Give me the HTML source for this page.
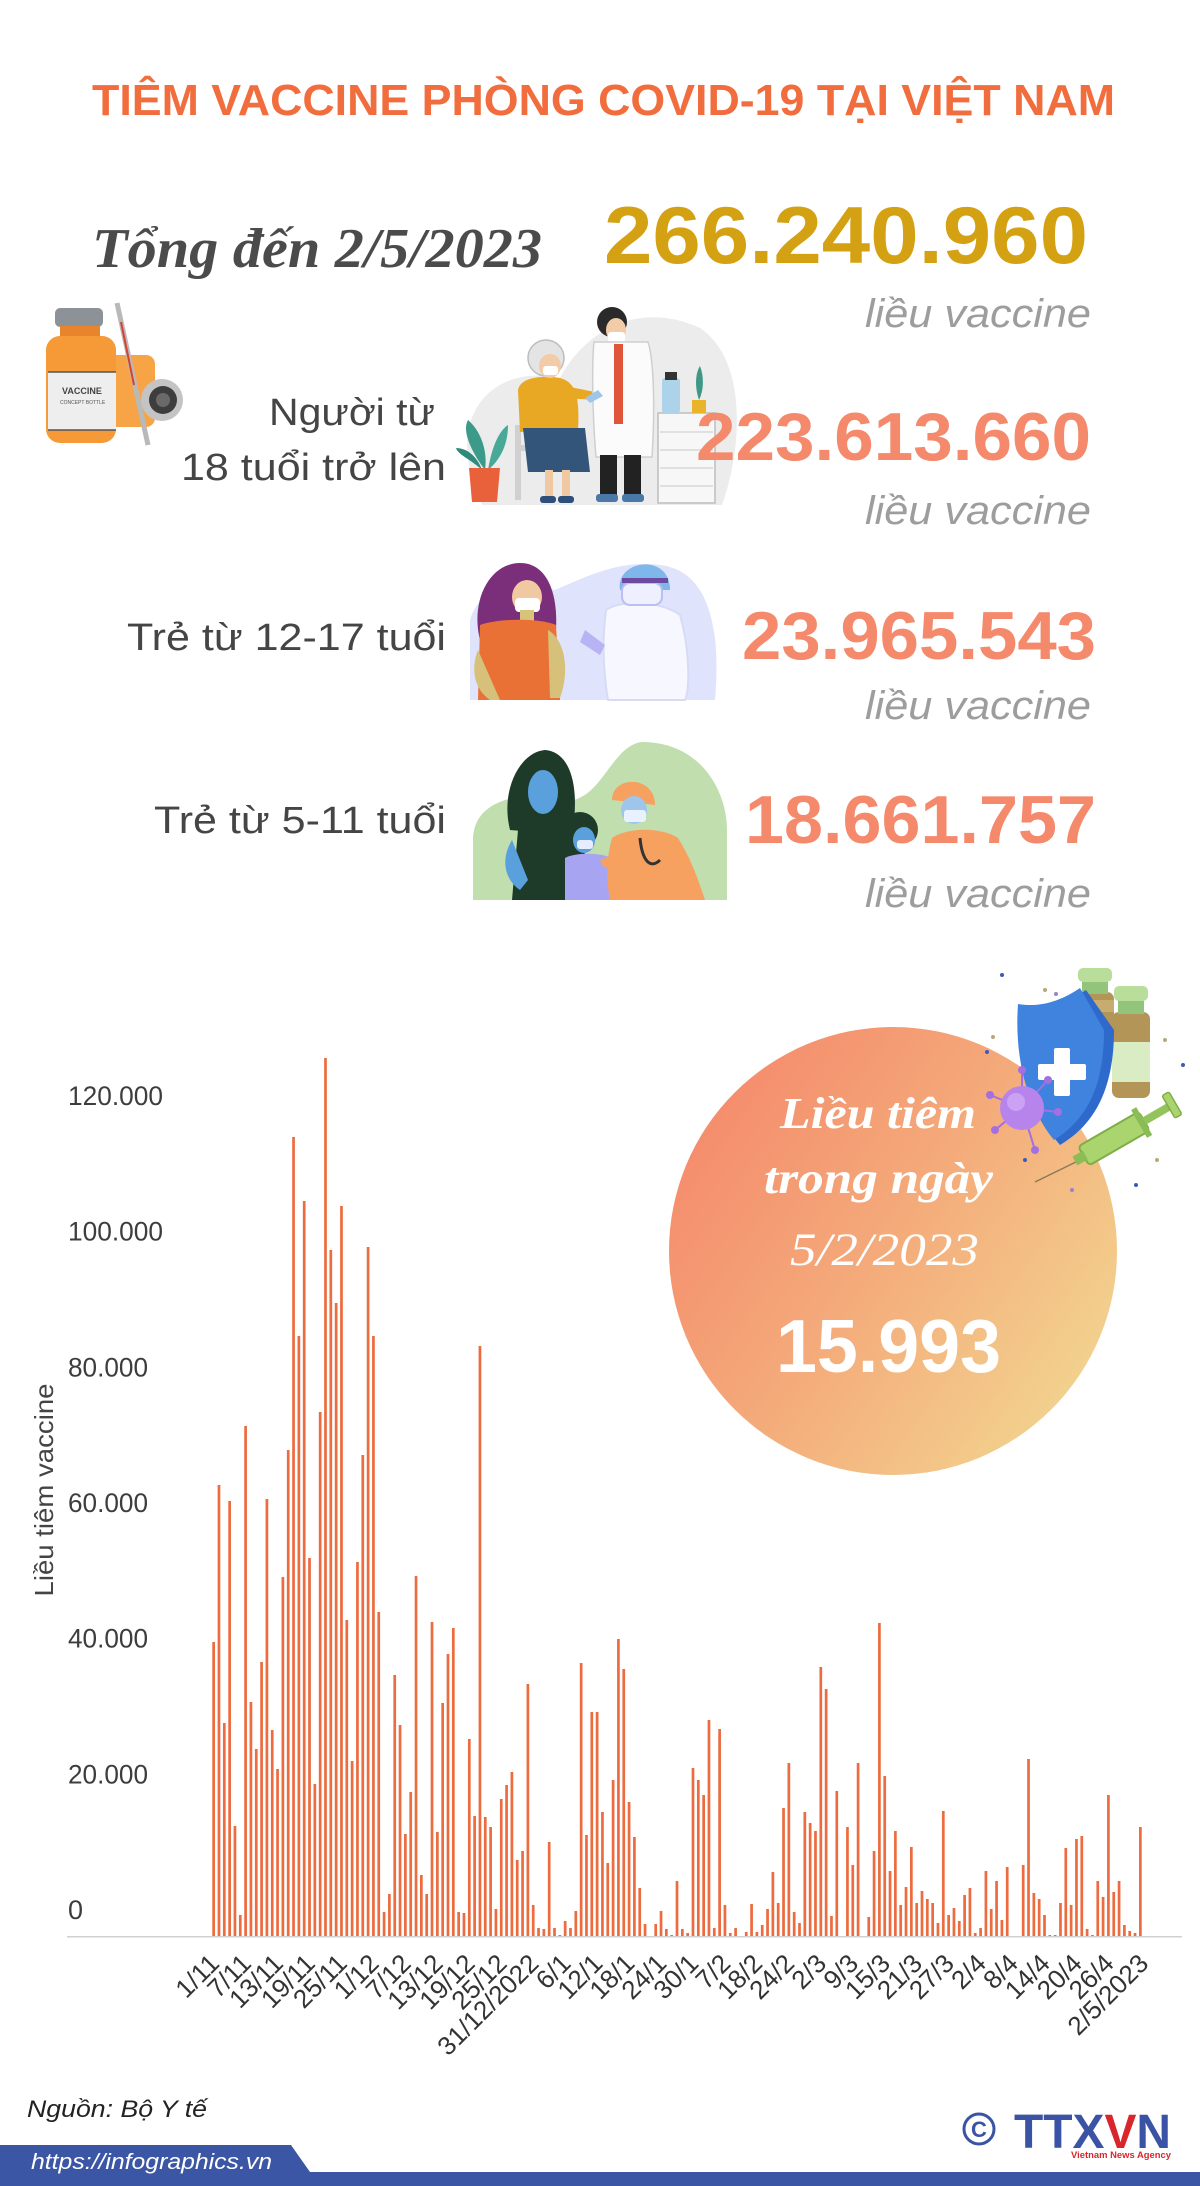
<!DOCTYPE html>
<html>
<head>
<meta charset="utf-8">
<style>
html,body{margin:0;padding:0;background:#fff;}
body{width:1200px;height:2186px;overflow:hidden;}
svg{display:block;}
text{font-family:"Liberation Sans", "Noto Sans CJK SC", sans-serif;}
.serif{font-family:"Liberation Serif", "Noto Serif CJK SC", serif;}
</style>
</head>
<body>
<svg width="1200" height="2186" viewBox="0 0 1200 2186" xmlns="http://www.w3.org/2000/svg">
<defs>
<linearGradient id="cg" x1="0" y1="0.15" x2="1" y2="0.85">
<stop offset="0" stop-color="#f5876a"/>
<stop offset="0.5" stop-color="#f4ac7b"/>
<stop offset="1" stop-color="#f2d891"/>
</linearGradient>
</defs>
<rect width="1200" height="2186" fill="#fff"/>

<!-- Title -->
<text x="92" y="115" font-weight="bold" font-size="44" fill="#f26d3d" textLength="1023" lengthAdjust="spacingAndGlyphs">TIÊM VACCINE PHÒNG COVID-19 TẠI VIỆT NAM</text>

<!-- Total -->
<text class="serif" x="92" y="267" font-style="italic" font-weight="bold" font-size="56" fill="#4b4b4b" textLength="450" lengthAdjust="spacingAndGlyphs">Tổng đến 2/5/2023</text>
<text x="604" y="263" font-weight="bold" font-size="81" fill="#d4a113" textLength="484" lengthAdjust="spacingAndGlyphs">266.240.960</text>
<text x="865" y="327" font-style="italic" font-size="40" fill="#9d9d9d" textLength="226" lengthAdjust="spacingAndGlyphs">liều vaccine</text>

<!-- Vaccine bottle illustration -->
<g>
<rect x="100" y="355" width="55" height="72" rx="9" fill="#f7a447"/>
<line x1="117" y1="303" x2="148" y2="445" stroke="#b9b9b9" stroke-width="5"/>
<line x1="121" y1="322" x2="134" y2="385" stroke="#d8412f" stroke-width="2"/>
<rect x="55" y="308" width="48" height="19" rx="5" fill="#8d9299"/>
<rect x="60" y="326" width="40" height="14" fill="#e8842c"/>
<rect x="46" y="336" width="70" height="107" rx="14" fill="#f59a36"/>
<rect x="48" y="372" width="68" height="58" fill="#eeeeee"/>
<line x1="48" y1="372" x2="116" y2="372" stroke="#555" stroke-width="1.5"/>
<line x1="48" y1="430" x2="116" y2="430" stroke="#555" stroke-width="1.5"/>
<text x="62" y="394" font-size="9" fill="#444" font-weight="bold">VACCINE</text>
<text x="60" y="404" font-size="5" fill="#555">CONCEPT BOTTLE</text>
<circle cx="162" cy="400" r="21" fill="#c4c4c4"/>
<circle cx="163" cy="400" r="14" fill="#3d3d3d"/>
<circle cx="163" cy="400" r="7" fill="#6a6a6a"/>
</g>

<!-- Elderly illustration -->
<g>
<path d="M470,470 C455,405 500,365 560,378 C585,330 640,300 700,328 C748,360 742,450 722,505 L482,505 Z" fill="#ececec"/>
<!-- plant left -->
<path d="M485,470 C470,450 462,430 468,420 C480,430 488,450 485,470 Z" fill="#3c9a8a"/>
<path d="M488,470 C492,445 500,430 508,425 C508,445 500,460 488,470 Z" fill="#48a998"/>
<path d="M482,470 C472,460 458,455 456,448 C468,448 478,458 482,470 Z" fill="#2f8a7c"/>
<path d="M469,468 L500,468 L497,502 L472,502 Z" fill="#e8613a"/>
<!-- chair -->
<rect x="515" y="425" width="6" height="75" fill="#d0d0d0"/>
<rect x="515" y="445" width="60" height="6" fill="#d0d0d0"/>
<!-- elderly woman -->
<path d="M518,390 C520,378 540,375 560,378 C575,382 580,395 578,430 L520,432 Z" fill="#e9a823"/>
<path d="M523,428 L585,428 L590,472 L528,472 Z" fill="#34557a"/>
<rect x="545" y="470" width="8" height="28" fill="#f0c9a2"/>
<rect x="562" y="470" width="8" height="28" fill="#f0c9a2"/>
<rect x="540" y="496" width="16" height="7" rx="3" fill="#2d4f7a"/>
<rect x="558" y="496" width="16" height="7" rx="3" fill="#2d4f7a"/>
<circle cx="546" cy="358" r="18" fill="#e4e4e4" stroke="#bdbdbd" stroke-width="1.5"/>
<ellipse cx="550" cy="366" rx="11" ry="12" fill="#f2cba8"/>
<rect x="543" y="366" width="15" height="9" rx="3" fill="#fff"/>
<path d="M560,385 L595,392 L597,400 L562,398 Z" fill="#e9a823"/>
<!-- doctor -->
<circle cx="612" cy="322" r="15" fill="#2a2a2a"/>
<ellipse cx="616" cy="330" rx="10" ry="12" fill="#f2cba8"/>
<rect x="608" y="332" width="17" height="10" rx="3" fill="#fff"/>
<path d="M594,342 L648,342 C654,360 655,410 652,457 L596,457 C592,410 592,360 594,342 Z" fill="#fbfbfb" stroke="#cfcfcf" stroke-width="1.5"/>
<rect x="614" y="344" width="9" height="80" fill="#e0553a"/>
<rect x="600" y="455" width="17" height="42" fill="#222"/>
<rect x="624" y="455" width="17" height="42" fill="#222"/>
<rect x="596" y="494" width="22" height="8" rx="3" fill="#4a79a8"/>
<rect x="622" y="494" width="22" height="8" rx="3" fill="#4a79a8"/>
<path d="M598,390 L585,398 L590,403 L603,396 Z" fill="#9fc6e8"/>
<!-- cabinet -->
<rect x="658" y="413" width="57" height="90" fill="#f7f7f7" stroke="#bdbdbd" stroke-width="1.5"/>
<line x1="660" y1="432" x2="713" y2="432" stroke="#c9c9c9"/>
<line x1="660" y1="450" x2="713" y2="450" stroke="#c9c9c9"/>
<line x1="660" y1="468" x2="713" y2="468" stroke="#c9c9c9"/>
<line x1="660" y1="486" x2="713" y2="486" stroke="#c9c9c9"/>
<rect x="662" y="378" width="18" height="35" rx="3" fill="#acd3ea"/>
<rect x="665" y="372" width="12" height="8" fill="#333"/>
<rect x="692" y="400" width="14" height="13" fill="#e9b429"/>
<path d="M699,400 C694,385 696,372 700,366 C704,376 704,390 699,400 Z" fill="#3f9786"/>
</g>
<text x="269" y="425" font-size="38" fill="#454545" textLength="166" lengthAdjust="spacingAndGlyphs">Người từ</text>
<text x="181" y="480" font-size="38" fill="#454545" textLength="265" lengthAdjust="spacingAndGlyphs">18 tuổi trở lên</text>
<text x="696" y="460" font-weight="bold" font-size="68" fill="#f4896b" textLength="395" lengthAdjust="spacingAndGlyphs">223.613.660</text>
<text x="865" y="524" font-style="italic" font-size="40" fill="#9d9d9d" textLength="226" lengthAdjust="spacingAndGlyphs">liều vaccine</text>

<!-- 12-17 illustration -->
<g>
<path d="M470,620 C480,585 520,580 555,590 C590,575 620,560 660,565 C705,570 722,620 715,700 L470,700 Z" fill="#dfe3fb"/>
<path d="M480,640 C470,600 490,563 520,563 C550,563 560,600 555,640 Z" fill="#7b2f7a"/>
<ellipse cx="527" cy="597" rx="15" ry="17" fill="#f0c9a2"/>
<rect x="515" y="598" width="25" height="14" rx="4" fill="#fff"/>
<rect x="520" y="610" width="14" height="12" fill="#d8c37a"/>
<path d="M480,625 C500,618 540,618 556,625 L560,700 L478,700 Z" fill="#ea7135"/>
<path d="M548,630 C565,640 570,670 560,698 L550,698 Z" fill="#d6c07a"/>
<path d="M478,650 C470,670 475,690 490,700 L500,700 Z" fill="#d6c07a"/>
<path d="M606,610 C620,600 660,600 680,615 C690,650 690,690 685,700 L608,700 C603,670 602,640 606,610 Z" fill="#f7f8ff" stroke="#d7dbf5" stroke-width="2"/>
<path d="M620,590 C615,560 670,552 670,590 Z" fill="#7fb7ea"/>
<rect x="622" y="583" width="40" height="22" rx="8" fill="#eef0ff" stroke="#b9bff0" stroke-width="2"/>
<rect x="622" y="578" width="46" height="5" fill="#6b4aa0"/>
<path d="M585,630 L605,645 L600,655 L580,642 Z" fill="#b7b3f5"/>
</g>
<text x="127" y="650" font-size="38" fill="#454545" textLength="319" lengthAdjust="spacingAndGlyphs">Trẻ từ 12-17 tuổi</text>
<text x="742" y="659" font-weight="bold" font-size="68" fill="#f4896b" textLength="354" lengthAdjust="spacingAndGlyphs">23.965.543</text>
<text x="865" y="719" font-style="italic" font-size="40" fill="#9d9d9d" textLength="226" lengthAdjust="spacingAndGlyphs">liều vaccine</text>

<!-- 5-11 illustration -->
<g>
<path d="M642,742 C700,742 727,790 727,830 L727,900 L473,900 L473,840 C473,800 520,790 560,800 C600,808 610,745 642,742 Z" fill="#c1deaf"/>
<path d="M510,830 C500,790 520,752 545,750 C572,752 580,790 572,835 Z" fill="#1e3b2a"/>
<ellipse cx="543" cy="792" rx="15" ry="22" fill="#5aa0dc"/>
<path d="M518,830 C530,818 565,818 582,830 L590,900 L512,900 Z" fill="#1e3b2a"/>
<path d="M512,840 C500,860 505,880 520,890 L528,880 Z" fill="#5aa0dc"/>
<circle cx="580" cy="830" r="18" fill="#1e3b2a"/>
<ellipse cx="584" cy="840" rx="11" ry="13" fill="#5aa0dc"/>
<rect x="577" y="840" width="16" height="9" rx="3" fill="#e8ecff"/>
<path d="M565,858 C575,852 605,852 615,860 L615,900 L565,900 Z" fill="#a7a4f1"/>
<path d="M612,800 C612,775 655,775 655,805 Z" fill="#f7a160"/>
<ellipse cx="634" cy="810" rx="13" ry="14" fill="#9fc5ec"/>
<rect x="624" y="810" width="22" height="12" rx="3" fill="#e8f2ff"/>
<path d="M612,838 C625,828 660,826 678,838 C692,860 700,885 705,900 L610,900 C606,880 606,860 612,838 Z" fill="#f7a160"/>
<path d="M640,838 C642,860 650,870 660,860" stroke="#333" stroke-width="3" fill="none"/>
<path d="M600,860 L620,852 L622,860 L604,868 Z" fill="#f7a160"/>
</g>
<text x="154" y="833" font-size="38" fill="#454545" textLength="292" lengthAdjust="spacingAndGlyphs">Trẻ từ 5-11 tuổi</text>
<text x="745" y="843" font-weight="bold" font-size="68" fill="#f4896b" textLength="351" lengthAdjust="spacingAndGlyphs">18.661.757</text>
<text x="865" y="907" font-style="italic" font-size="40" fill="#9d9d9d" textLength="226" lengthAdjust="spacingAndGlyphs">liều vaccine</text>

<!-- Chart: y axis labels -->
<g font-size="27" fill="#3d3d3d">
<text x="68" y="1105" textLength="95" lengthAdjust="spacingAndGlyphs">120.000</text>
<text x="68" y="1240.7" textLength="95" lengthAdjust="spacingAndGlyphs">100.000</text>
<text x="68" y="1376.3" textLength="80" lengthAdjust="spacingAndGlyphs">80.000</text>
<text x="68" y="1512" textLength="80" lengthAdjust="spacingAndGlyphs">60.000</text>
<text x="68" y="1647.7" textLength="80" lengthAdjust="spacingAndGlyphs">40.000</text>
<text x="68" y="1783.3" textLength="80" lengthAdjust="spacingAndGlyphs">20.000</text>
<text x="68" y="1919">0</text>
</g>
<text transform="translate(53,1490) rotate(-90)" text-anchor="middle" font-size="26" fill="#444" textLength="213" lengthAdjust="spacingAndGlyphs">Liều tiêm vaccine</text>

<!-- axis line -->
<rect x="67" y="1936" width="1115" height="1.5" fill="#d0d0d0"/>

<!-- Bars -->
<path fill="none" stroke="#ec6b3f" stroke-width="2.7" d="M213.65 1936
v-294m5.326 294v-451m5.326 451v-213m5.326 213v-435m5.326 435v-110m5.326 110v-21m5.326 21v-510m5.326 510v-234m5.326 234v-187m5.326 187v-274m5.326 274
v-437m5.326 437v-206m5.326 206v-167m5.326 167v-359m5.326 359v-486m5.326 486v-799m5.326 799v-600m5.326 600v-735m5.326 735v-378m5.326 378v-152m5.326 152
v-524m5.326 524v-878m5.326 878v-686m5.326 686v-633m5.326 633v-730m5.326 730v-316m5.326 316v-175m5.326 175v-374m5.326 374v-481m5.326 481v-689m5.326 689
v-600m5.326 600v-324m5.326 324v-24m5.326 24v-42m5.326 42v-261m5.326 261v-211m5.326 211v-102m5.326 102v-144m5.326 144v-360m5.326 360v-61m5.326 61
v-42m5.326 42v-314m5.326 314v-104m5.326 104v-233m5.326 233v-282m5.326 282v-308m5.326 308v-24m5.326 24v-23m5.326 23v-197m5.326 197v-120m5.326 120
v-590m5.326 590v-119m5.326 119v-109m5.326 109v-27m5.326 27v-137m5.326 137v-151m5.326 151v-164m5.326 164v-76m5.326 76v-85m5.326 85v-252m5.326 252
v-31m5.326 31v-8m5.326 8v-7m5.326 7v-94m5.326 94v-8m5.326 8v-1m5.326 1v-15m5.326 15v-8m5.326 8v-25m5.326 25v-273m5.326 273
v-101m5.326 101v-224m5.326 224v-224m5.326 224v-124m5.326 124v-73m5.326 73v-156m5.326 156v-297m5.326 297v-267m5.326 267v-134m5.326 134v-99m5.326 99
v-48m5.326 48v-12m5.326 12v0m5.326 0v-12m5.326 12v-25m5.326 25v-7m5.326 7v-1m5.326 1v-55m5.326 55v-7m5.326 7v-3m5.326 3
v-168m5.326 168v-156m5.326 156v-141m5.326 141v-216m5.326 216v-8m5.326 8v-207m5.326 207v-31m5.326 31v-3m5.326 3v-8m5.326 8v0m5.326 0
v-4m5.326 4v-32m5.326 32v-4m5.326 4v-11m5.326 11v-27m5.326 27v-64m5.326 64v-33m5.326 33v-128m5.326 128v-173m5.326 173v-24m5.326 24
v-13m5.326 13v-124m5.326 124v-113m5.326 113v-105m5.326 105v-269m5.326 269v-247m5.326 247v-20m5.326 20v-145m5.326 145v0m5.326 0v-109m5.326 109
v-71m5.326 71v-173m5.326 173v0m5.326 0v-19m5.326 19v-85m5.326 85v-313m5.326 313v-160m5.326 160v-65m5.326 65v-105m5.326 105v-31m5.326 31
v-49m5.326 49v-89m5.326 89v-33m5.326 33v-45m5.326 45v-37m5.326 37v-33m5.326 33v-13m5.326 13v-125m5.326 125v-21m5.326 21v-28m5.326 28
v-15m5.326 15v-41m5.326 41v-48m5.326 48v-3m5.326 3v-8m5.326 8v-65m5.326 65v-27m5.326 27v-55m5.326 55v-16m5.326 16v-69m5.326 69
v0m5.326 0v0m5.326 0v-71m5.326 71v-177m5.326 177v-43m5.326 43v-37m5.326 37v-21m5.326 21v-1m5.326 1v-1m5.326 1v-33m5.326 33
v-88m5.326 88v-31m5.326 31v-97m5.326 97v-100m5.326 100v-7m5.326 7v-1m5.326 1v-55m5.326 55v-39m5.326 39v-141m5.326 141v-44m5.326 44
v-55m5.326 55v-11m5.326 11v-5m5.326 5v-3m5.326 3v-109"/>

<!-- X labels -->
<g font-size="26" fill="#333" text-anchor="end">
<text transform="translate(220.7,1965) rotate(-45)">1/11</text>
<text transform="translate(252.6,1965) rotate(-45)">7/11</text>
<text transform="translate(284.6,1965) rotate(-45)">13/11</text>
<text transform="translate(316.5,1965) rotate(-45)">19/11</text>
<text transform="translate(348.5,1965) rotate(-45)">25/11</text>
<text transform="translate(380.4,1965) rotate(-45)">1/12</text>
<text transform="translate(412.4,1965) rotate(-45)">7/12</text>
<text transform="translate(444.3,1965) rotate(-45)">13/12</text>
<text transform="translate(476.3,1965) rotate(-45)">19/12</text>
<text transform="translate(508.3,1965) rotate(-45)">25/12</text>
<text transform="translate(540.2,1965) rotate(-45)">31/12/2022</text>
<text transform="translate(572.2,1965) rotate(-45)">6/1</text>
<text transform="translate(604.1,1965) rotate(-45)">12/1</text>
<text transform="translate(636.1,1965) rotate(-45)">18/1</text>
<text transform="translate(668.0,1965) rotate(-45)">24/1</text>
<text transform="translate(700.0,1965) rotate(-45)">30/1</text>
<text transform="translate(732.0,1965) rotate(-45)">7/2</text>
<text transform="translate(763.9,1965) rotate(-45)">18/2</text>
<text transform="translate(795.9,1965) rotate(-45)">24/2</text>
<text transform="translate(827.8,1965) rotate(-45)">2/3</text>
<text transform="translate(859.8,1965) rotate(-45)">9/3</text>
<text transform="translate(891.7,1965) rotate(-45)">15/3</text>
<text transform="translate(923.7,1965) rotate(-45)">21/3</text>
<text transform="translate(955.6,1965) rotate(-45)">27/3</text>
<text transform="translate(987.6,1965) rotate(-45)">2/4</text>
<text transform="translate(1019.6,1965) rotate(-45)">8/4</text>
<text transform="translate(1051.5,1965) rotate(-45)">14/4</text>
<text transform="translate(1083.5,1965) rotate(-45)">20/4</text>
<text transform="translate(1115.4,1965) rotate(-45)">26/4</text>
<text transform="translate(1150,1965) rotate(-45)">2/5/2023</text>
</g>

<!-- Circle -->
<circle cx="893" cy="1251" r="224" fill="url(#cg)"/>
<text class="serif" x="780" y="1128" font-style="italic" font-weight="bold" font-size="44" fill="#fff" textLength="196" lengthAdjust="spacingAndGlyphs">Liều tiêm</text>
<text class="serif" x="764" y="1193" font-style="italic" font-weight="bold" font-size="44" fill="#fff" textLength="229" lengthAdjust="spacingAndGlyphs">trong ngày</text>
<text class="serif" x="790" y="1265" font-style="italic" font-size="47" fill="#fff" textLength="189" lengthAdjust="spacingAndGlyphs">5/2/2023</text>
<text x="776" y="1372" font-weight="bold" font-size="75" fill="#fff" textLength="225" lengthAdjust="spacingAndGlyphs">15.993</text>

<!-- Circle illustration -->
<g>
<circle cx="1002" cy="975" r="2" fill="#3b5bb5"/>
<circle cx="1056" cy="994" r="2" fill="#9b7fd0"/>
<circle cx="1045" cy="990" r="2" fill="#b8a878"/>
<circle cx="993" cy="1037" r="2" fill="#b8a878"/>
<circle cx="987" cy="1052" r="2" fill="#3b5bb5"/>
<circle cx="1165" cy="1040" r="2" fill="#b8a878"/>
<circle cx="1183" cy="1065" r="2" fill="#3b5bb5"/>
<circle cx="1157" cy="1160" r="2" fill="#b8a878"/>
<circle cx="1136" cy="1185" r="2" fill="#3b5bb5"/>
<circle cx="1072" cy="1190" r="2" fill="#9b7fd0"/>
<circle cx="1025" cy="1160" r="2" fill="#3b5bb5"/>
<!-- vials -->
<rect x="1076" y="992" width="38" height="70" rx="7" fill="#b39558"/>
<rect x="1076" y="1000" width="38" height="12" fill="#c7ac70"/>
<rect x="1082" y="980" width="26" height="14" fill="#93c47c"/>
<rect x="1078" y="968" width="34" height="14" rx="5" fill="#b9dd9b"/>
<rect x="1112" y="1012" width="38" height="86" rx="7" fill="#b39558"/>
<rect x="1112" y="1042" width="38" height="40" fill="#d9ecc4"/>
<rect x="1118" y="1000" width="26" height="14" fill="#93c47c"/>
<rect x="1114" y="986" width="34" height="15" rx="5" fill="#b9dd9b"/>
<!-- shield -->
<path d="M1024,1007 C1048,1010 1068,1002 1086,990 L1114,1030 C1114,1090 1094,1125 1060,1145 C1032,1112 1020,1064 1024,1007 Z" fill="#2e6acb"/>
<path d="M1018,1004 C1042,1008 1062,1000 1080,988 L1104,1030 C1104,1088 1086,1120 1054,1140 C1028,1108 1014,1060 1018,1004 Z" fill="#3f83df"/>
<rect x="1054" y="1048" width="16" height="48" rx="2" fill="#fff"/>
<rect x="1038" y="1064" width="48" height="16" rx="2" fill="#fff"/>
<!-- virus -->
<g stroke="#a46fe0" stroke-width="2">
<line x1="1022" y1="1108" x2="1022" y2="1070"/>
<line x1="1022" y1="1108" x2="990" y2="1095"/>
<line x1="1022" y1="1108" x2="995" y2="1130"/>
<line x1="1022" y1="1108" x2="1035" y2="1150"/>
<line x1="1022" y1="1108" x2="1058" y2="1112"/>
<line x1="1022" y1="1108" x2="1048" y2="1080"/>
</g>
<g fill="#a46fe0">
<circle cx="1022" cy="1070" r="4"/><circle cx="990" cy="1095" r="4"/><circle cx="995" cy="1130" r="4"/>
<circle cx="1035" cy="1150" r="4"/><circle cx="1058" cy="1112" r="4"/><circle cx="1048" cy="1080" r="4"/>
</g>
<circle cx="1022" cy="1108" r="22" fill="#b784ec"/>
<circle cx="1016" cy="1102" r="9" fill="#cba2f3"/>
<!-- syringe -->
<line x1="1035" y1="1182" x2="1080" y2="1160" stroke="#8a7a55" stroke-width="1.5"/>
<g transform="translate(1120,1135) rotate(-30)">
<rect x="-42" y="-11" width="70" height="22" rx="4" fill="#a9d46e" stroke="#7fad48" stroke-width="2"/>
<rect x="-52" y="-5" width="12" height="10" fill="#8cbc55"/>
<rect x="28" y="-4" width="30" height="8" fill="#93c45c"/>
<rect x="56" y="-13" width="8" height="26" rx="2" fill="#a9d46e" stroke="#7fad48" stroke-width="1.5"/>
<rect x="22" y="-16" width="6" height="32" fill="#8cbc55"/>
</g>
</g>

<!-- Footer -->
<text x="27" y="2117" font-style="italic" font-size="24" fill="#222" textLength="180" lengthAdjust="spacingAndGlyphs">Nguồn: Bộ Y tế</text>
<path d="M0,2145 L291,2145 L310,2172 L1200,2172 L1200,2186 L0,2186 Z" fill="#3c56a6"/>
<text x="31" y="2169" font-style="italic" font-size="22" fill="#fff" textLength="241" lengthAdjust="spacingAndGlyphs">https://infographics.vn</text>
<!-- TTXVN logo -->
<circle cx="979" cy="2129" r="15" fill="none" stroke="#3b53a4" stroke-width="3"/>
<text x="979" y="2137" text-anchor="middle" font-size="22" font-weight="bold" fill="#3b53a4">C</text>
<text x="1014" y="2148" font-weight="bold" font-size="48" fill="#3b53a4" textLength="157" lengthAdjust="spacingAndGlyphs">TTX<tspan fill="#d9262d">V</tspan>N</text>
<text x="1071" y="2158" font-weight="bold" font-size="9" fill="#d9262d" textLength="100" lengthAdjust="spacingAndGlyphs">Vietnam News Agency</text>
</svg>
</body>
</html>
